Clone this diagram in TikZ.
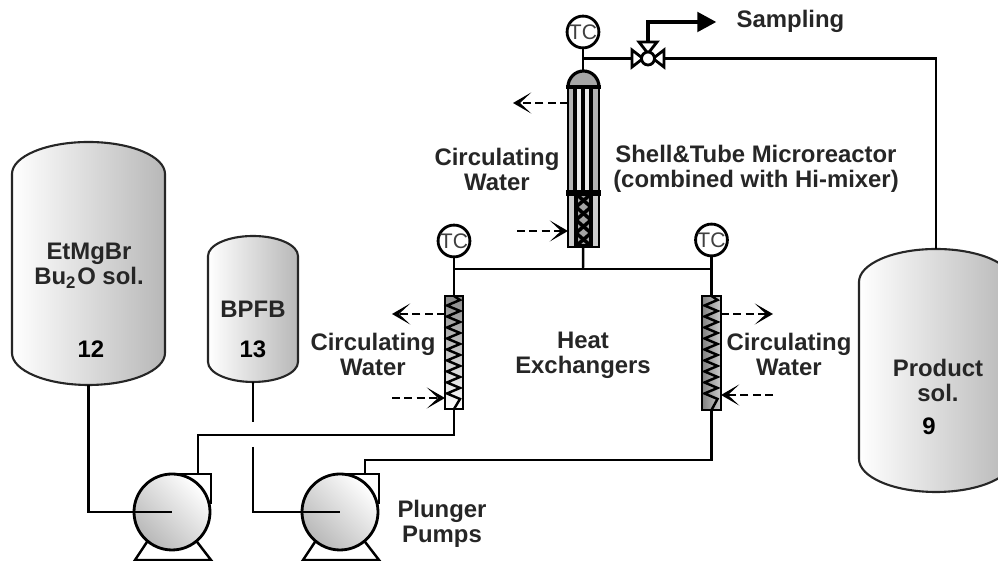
\documentclass[tikz,border=0pt]{standalone}
\usepackage{fontspec}
\setmainfont{Liberation Sans}
\usetikzlibrary{arrows.meta,calc}
\tikzset{
  pipe/.style={line width=0.7pt},
  lbl/.style={font=\bfseries\fontsize{6.8}{7.1}\selectfont, align=center, inner sep=0pt, text=black!85},
  num/.style={font=\bfseries\fontsize{6.8}{7.1}\selectfont, inner sep=0pt},
  tc/.style={circle, draw, line width=0.8pt, minimum size=0.3cm, inner sep=0pt, fill=white, font=\fontsize{6}{6}\selectfont, text=black!75},
  box/.style={inner sep=0pt, outer sep=0pt},
  vesselline/.style={line width=0.6pt, draw=black!85, left color=white, right color=black!28},
  water/.style={line width=0.75pt, dash pattern=on 2.3pt off 1.2pt, -{Stealth[length=5.2pt,width=6pt,inset=3.2pt]}},
  pumpbody/.style={circle, draw, line width=0.8pt, minimum size=0.76cm, inner sep=0pt, outer sep=0pt, left color=white, right color=black!28, shading angle=-45},
  vpart/.style={line width=0.8pt, fill=white}
}
\newcommand{\vessel}[3]{\draw[vesselline] ($(#1.north west)+(0,-#3)$) arc [start angle=180,end angle=0,x radius=#2,y radius=#3] -- ($(#1.south east)+(0,#3)$) arc [start angle=0,end angle=-180,x radius=#2,y radius=#3] -- cycle;}
\begin{document}
\begin{tikzpicture}
  \useasboundingbox (0,0) rectangle (9.98,-5.61);
  \clip (0,0) rectangle (9.98,-5.61);

  % tanks
  \node (t12) [box, minimum width=1.53cm, minimum height=2.43cm] at (0.885,-2.635) {};
  \node (t13) [box, minimum width=0.90cm, minimum height=1.46cm] at (2.53,-3.09) {};
  \node (t9) [box, minimum width=1.54cm, minimum height=2.43cm] at (9.36,-3.705) {};
  \vessel{t12}{0.765}{0.32}
  \vessel{t13}{0.45}{0.2}
  \vessel{t9}{0.77}{0.33}

  \node (l12) [lbl] at (0.89,-2.66) {EtMgBr\\Bu\textsubscript{2}O sol.};
  \node (n12) [num] at (0.91,-3.49) {12};
  \node (l13) [lbl] at (2.53,-3.09) {BPFB};
  \node (n13) [num] at (2.53,-3.49) {13};
  \node (l9) [lbl] at (9.38,-3.805) {Product\\sol.};
  \node (n9) [num] at (9.29,-4.26) {9};

  % pumps
  \node (p1) [pumpbody] at (1.72,-5.12) {};
  \node (p2) [pumpbody] at (3.40,-5.12) {};
  \draw[pipe] (p1.north) -- ++(0.39,0) -- ++(0,-0.3);
  \draw[pipe] (p2.north) -- ++(0.39,0) -- ++(0,-0.3);
  \draw[pipe] (p1.-130) -- (1.35,-5.6) -- (2.11,-5.6) -- (p1.-50);
  \draw[pipe] (p2.-130) -- (3.03,-5.6) -- (3.79,-5.6) -- (p2.-50);

  % heat exchangers
  \node (hx1) [box, draw, line width=0.7pt, minimum width=0.18cm, minimum height=1.13cm, top color=black!45, bottom color=white] at (4.54,-3.525) {};
  \node (hx2) [box, draw, line width=0.7pt, minimum width=0.19cm, minimum height=1.14cm, left color=black!50, right color=black!20] at (7.115,-3.53) {};
  \foreach \hx in {hx1,hx2}
    \draw[pipe] (\hx.north) -- ++(0.06,-0.04)
      \foreach \i in {1,...,9} { -- ++(-0.13,-0.055) -- ++(0.13,-0.055) } -- (\hx.south);

  % reactor
  \node (mix) [box, draw, line width=0.7pt, minimum width=0.31cm, minimum height=0.54cm, fill=black!20] at (5.835,-2.20) {};
  \node (shell) [box, draw, line width=0.7pt, minimum width=0.31cm, minimum height=1.06cm, fill=black!30] at (5.835,-1.40) {};
  \draw[line width=0.9pt, fill=black!35] (shell.north west) arc [start angle=180,end angle=0,x radius=0.155,y radius=0.16] -- cycle;
  \fill[black!8] (5.76,-0.87) rectangle (5.81,-1.93) (5.85,-0.87) rectangle (5.90,-1.93);
  \foreach \x in {5.75,5.83,5.91}
    \draw[line width=0.9pt] (\x,-0.87) -- (\x,-1.93);
  \draw[line width=1.3pt] (5.66,-0.87) -- (6.01,-0.87);
  \draw[line width=1.5pt] (5.66,-1.93) -- (6.01,-1.93);
  \fill[black!35] (5.76,-1.94) rectangle (5.91,-2.46);
  \draw[line width=0.9pt] (5.76,-1.94) rectangle (5.91,-2.46);
  \foreach \i in {0,...,3}
    \draw[line width=1pt] (5.76,-1.94-0.13*\i) -- (5.91,-2.07-0.13*\i) (5.91,-1.94-0.13*\i) -- (5.76,-2.07-0.13*\i);

  % thermocouples
  \node (tc1) [tc] at (4.54,-2.41) {TC};
  \node (tc2) [tc] at (7.115,-2.40) {TC};
  \node (tc3) [tc] at (5.83,-0.32) {TC};
  \coordinate (j1) at (4.54,-2.69);
  \coordinate (j2) at (7.115,-2.69);
  \coordinate (j3) at (5.83,-2.69);
  \draw[pipe] (tc1) -- (hx1);
  \draw[pipe] (tc2) -- (hx2);
  \draw[pipe] (j1) -- (j2);
  \draw[pipe] (j3) -- (mix);

  % valve
  \coordinate (v0) at (6.48,-0.585);
  \draw[vpart] (v0) ++(-0.05,0) -- (6.32,-0.50) -- (6.32,-0.67) -- cycle;
  \draw[vpart] (v0) ++(0.05,0) -- (6.64,-0.50) -- (6.64,-0.67) -- cycle;
  \draw[vpart] (v0) ++(0,0.05) -- (6.39,-0.42) -- (6.57,-0.42) -- cycle;
  \node (v) [circle, draw, line width=0.8pt, fill=white, minimum size=0.13cm, inner sep=0pt] at (v0) {};
  \coordinate (vl) at (6.32,-0.585);
  \coordinate (vr) at (6.64,-0.585);
  \coordinate (vt) at (6.48,-0.42);
  \coordinate (s1) at (5.83,-0.585);
  \node (tip) [box] at (7.18,-0.22) {};
  \draw[pipe] (tc3) -- (5.83,-0.70);
  \draw[pipe] (s1) -- (vl);
  \draw[pipe] (vr) -| (t9.north);
  \draw[line width=0.9pt, -{Triangle[length=5.4pt,width=5.6pt]}] (vt) |- (tip);

  % feed lines
  \coordinate (g1) at (2.53,-4.22);
  \coordinate (g2) at (2.53,-4.47);
  \draw[pipe] (t12.south) |- (p1.center);
  \draw[pipe] (t13.south) -- (g1);
  \draw[pipe] (g2) |- (p2.center);
  \draw[pipe] (hx1.south) |- (1.98,-4.35) -- (1.98,-4.74);
  \draw[pipe] (hx2.south) |- (3.65,-4.60) -- (3.65,-4.74);

  % circulating water
  \coordinate (a1) at (5.13,-1.03);
  \coordinate (a2) at (5.17,-2.31);
  \draw[water] (shell.west |- a1) -- (a1);
  \draw[water] (a2) -- (mix.west |- a2);
  \coordinate (a3) at (3.92,-3.14);
  \coordinate (a4) at (3.92,-3.98);
  \draw[water] (hx1.west |- a3) -- (a3);
  \draw[water] (a4) -- (hx1.west |- a4);
  \coordinate (a5) at (7.73,-3.14);
  \coordinate (a6) at (7.73,-3.95);
  \draw[water] (hx2.east |- a5) -- (a5);
  \draw[water] (a6) -- (hx2.east |- a6);

  % labels
  \node (w1) [lbl] at (4.97,-1.695) {Circulating\\Water};
  \node (w2) [lbl] at (3.73,-3.54) {Circulating\\Water};
  \node (w3) [lbl] at (7.89,-3.545) {Circulating\\Water};
  \node (he) [lbl] at (5.83,-3.55) {Heat\\Exchangers};
  \node (st) [lbl] at (7.56,-1.685) {Shell\&Tube Microreactor\\(combined with Hi-mixer)};
  \node (pp) [lbl] at (4.42,-5.235) {Plunger\\Pumps};
  \node (sa) [lbl, anchor=west] at (7.36,-0.21) {Sampling};
\end{tikzpicture}
\end{document}
